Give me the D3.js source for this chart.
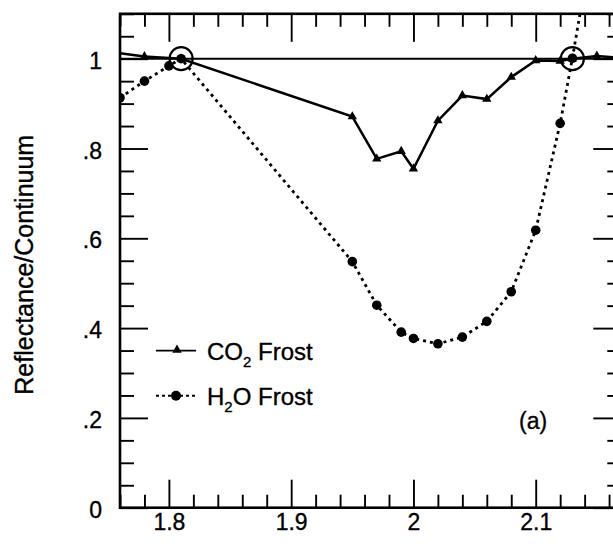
<!DOCTYPE html>
<meta charset="utf-8">
<script src="https://d3js.org/d3.v7.min.js"></script>
<style>
  body { margin: 0; background: #fff; }
  svg text { font-family: "Liberation Sans", Arial, sans-serif; fill: #000; stroke: #000; stroke-width: 0.35; }
  .tick line { stroke: #000; stroke-width: 1.9; }
</style>
<body>
<script>
  // wavelength (microns) and reflectance/continuum
  var co2Wave = [1.76, 1.78, 1.81, 1.95, 1.97, 1.99, 2.00, 2.02, 2.04, 2.06, 2.08, 2.10, 2.12, 2.13, 2.15, 2.17];
  var co2Refl = [1.012, 1.005, 1.0, 0.871, 0.777, 0.794, 0.755, 0.862, 0.918, 0.91, 0.959, 0.996, 0.995, 1.0, 1.006, 1.002];

  var h2oWave = [1.76, 1.78, 1.80, 1.81, 1.95, 1.97, 1.99, 2.00, 2.02, 2.04, 2.06, 2.08, 2.10, 2.12, 2.13, 2.14];
  var h2oRefl = [0.913, 0.95, 0.984, 1.0, 0.548, 0.451, 0.391, 0.377, 0.365, 0.38, 0.415, 0.481, 0.618, 0.856, 1.001, 1.16];

  // continuum tie points (open circles)
  var tieWave = [1.81, 2.13];
  var tieRefl = [1.0, 1.0];

  var xTicks = [1.8, 1.9, 2.0, 2.1];
  var xTickLabels = ["1.8", "1.9", "2", "2.1"];
  var yTicks = [0, 0.2, 0.4, 0.6, 0.8, 1.0];
  var yTickLabels = ["0", ".2", ".4", ".6", ".8", "1"];

  var width = 613, height = 546;
  var pLeft = 120, pRight = 621.3, pTop = 13.8, pBottom = 507.7;

  var x = d3.scaleLinear().domain([1.76, 2.17]).range([pLeft, pRight]);
  var y = d3.scaleLinear().domain([0, 1.1]).range([pBottom, pTop]);

  var svg = d3.select("body").append("svg")
    .attr("width", width)
    .attr("height", height);

  svg.append("clipPath").attr("id", "plot")
    .append("rect")
    .attr("x", pLeft).attr("y", pTop)
    .attr("width", pRight - pLeft).attr("height", pBottom - pTop);

  var plot = svg.append("g").attr("clip-path", "url(#plot)");

  // continuum level
  plot.append("line")
    .attr("x1", pLeft).attr("x2", pRight)
    .attr("y1", y(1)).attr("y2", y(1))
    .attr("stroke", "#000").attr("stroke-width", 2);

  var co2 = co2Wave.map(function(d, i) { return [d, co2Refl[i]]; });
  var h2o = h2oWave.map(function(d, i) { return [d, h2oRefl[i]]; });

  var line = d3.line()
    .x(function(d) { return x(d[0]); })
    .y(function(d) { return y(d[1]); });

  plot.append("path")
    .attr("d", line(co2))
    .attr("fill", "none")
    .attr("stroke", "#000")
    .attr("stroke-width", 2.5);

  plot.append("path")
    .attr("d", line(h2o))
    .attr("fill", "none")
    .attr("stroke", "#000")
    .attr("stroke-width", 2.8)
    .attr("stroke-dasharray", "3,4");

  var tri = d3.symbol().type(d3.symbolTriangle).size(38);

  plot.selectAll(".co2pt")
    .data(co2.slice(1, -1))
    .enter().append("path")
    .attr("class", "co2pt")
    .attr("d", tri)
    .attr("transform", function(d) { return "translate(" + x(d[0]) + "," + y(d[1]) + ")"; });

  plot.selectAll(".h2opt")
    .data(h2o)
    .enter().append("circle")
    .attr("class", "h2opt")
    .attr("cx", function(d) { return x(d[0]); })
    .attr("cy", function(d) { return y(d[1]); })
    .attr("r", 4.8);

  plot.selectAll(".tie")
    .data(tieWave)
    .enter().append("circle")
    .attr("class", "tie")
    .attr("cx", function(d) { return x(d); })
    .attr("cy", function(d, i) { return y(tieRefl[i]); })
    .attr("r", 11.5)
    .attr("fill", "none")
    .attr("stroke", "#000")
    .attr("stroke-width", 2.2);

  // minor ticks from the scales, majors from the tick arrays
  var xMinor = x.ticks(20).filter(function(t) {
    return !xTicks.some(function(m) { return Math.abs(m - t) < 1e-6; });
  });
  var yMinor = y.ticks(22).filter(function(t) {
    return !yTicks.some(function(m) { return Math.abs(m - t) < 1e-6; });
  });

  function clean(g) { g.select(".domain").remove(); }

  // bottom
  svg.append("g").attr("transform", "translate(0," + pBottom + ")")
    .call(d3.axisBottom(x).tickValues(xMinor).tickSize(-13).tickFormat(""))
    .call(clean);
  var xb = svg.append("g").attr("transform", "translate(0," + pBottom + ")")
    .call(d3.axisBottom(x).tickValues(xTicks).tickSize(-28).tickPadding(6)
      .tickFormat(function(d, i) { return xTickLabels[i]; }))
    .call(clean);
  xb.selectAll("text").attr("font-size", 23).attr("font-family", null);

  // top
  svg.append("g").attr("transform", "translate(0," + pTop + ")")
    .call(d3.axisTop(x).tickValues(xMinor).tickSize(-13).tickFormat(""))
    .call(clean);
  svg.append("g").attr("transform", "translate(0," + pTop + ")")
    .call(d3.axisTop(x).tickValues(xTicks).tickSize(-28).tickFormat(""))
    .call(clean);

  // left
  svg.append("g").attr("transform", "translate(" + pLeft + ",0)")
    .call(d3.axisLeft(y).tickValues(yMinor).tickSize(-14).tickFormat(""))
    .call(clean);
  var yl = svg.append("g").attr("transform", "translate(" + pLeft + ",0)")
    .call(d3.axisLeft(y).tickValues(yTicks).tickSize(-28).tickPadding(18)
      .tickFormat(function(d, i) { return yTickLabels[i]; }))
    .call(clean);
  yl.selectAll("text").attr("font-size", 23).attr("font-family", null).attr("dy", "0.42em");

  // right
  svg.append("g").attr("transform", "translate(" + pRight + ",0)")
    .call(d3.axisRight(y).tickValues(yMinor).tickSize(-14).tickFormat(""))
    .call(clean);
  svg.append("g").attr("transform", "translate(" + pRight + ",0)")
    .call(d3.axisRight(y).tickValues(yTicks).tickSize(-28).tickFormat(""))
    .call(clean);

  // frame
  svg.append("rect")
    .attr("x", pLeft).attr("y", pTop)
    .attr("width", pRight - pLeft).attr("height", pBottom - pTop)
    .attr("fill", "none")
    .attr("stroke", "#000")
    .attr("stroke-width", 2.6);

  // axis title
  svg.append("text")
    .attr("transform", "translate(33," + ((pTop + pBottom) / 2 + 4) + ") rotate(-90)")
    .attr("text-anchor", "middle")
    .attr("font-size", 25)
    .text("Reflectance/Continuum");

  // legend
  var legend = svg.append("g");
  legend.append("line")
    .attr("x1", 156).attr("x2", 196).attr("y1", 350.7).attr("y2", 350.7)
    .attr("stroke", "#000").attr("stroke-width", 1.8);
  legend.append("path").attr("d", tri).attr("transform", "translate(177,350)");
  var t1 = legend.append("text").attr("x", 207).attr("y", 360).attr("font-size", 24);
  t1.append("tspan").text("CO");
  t1.append("tspan").attr("font-size", 15).attr("dy", 7).text("2");
  t1.append("tspan").attr("dy", -7).text(" Frost");

  legend.append("line")
    .attr("x1", 156).attr("x2", 196).attr("y1", 395.7).attr("y2", 395.7)
    .attr("stroke", "#000").attr("stroke-width", 2)
    .attr("stroke-dasharray", "3,3");
  legend.append("circle").attr("cx", 176).attr("cy", 395.7).attr("r", 5);
  var t2 = legend.append("text").attr("x", 207).attr("y", 405).attr("font-size", 24);
  t2.append("tspan").text("H");
  t2.append("tspan").attr("font-size", 15).attr("dy", 7).text("2");
  t2.append("tspan").attr("dy", -7).text("O Frost");

  svg.append("text")
    .attr("x", 519).attr("y", 429)
    .attr("font-size", 23)
    .text("(a)");
</script>
</body>
